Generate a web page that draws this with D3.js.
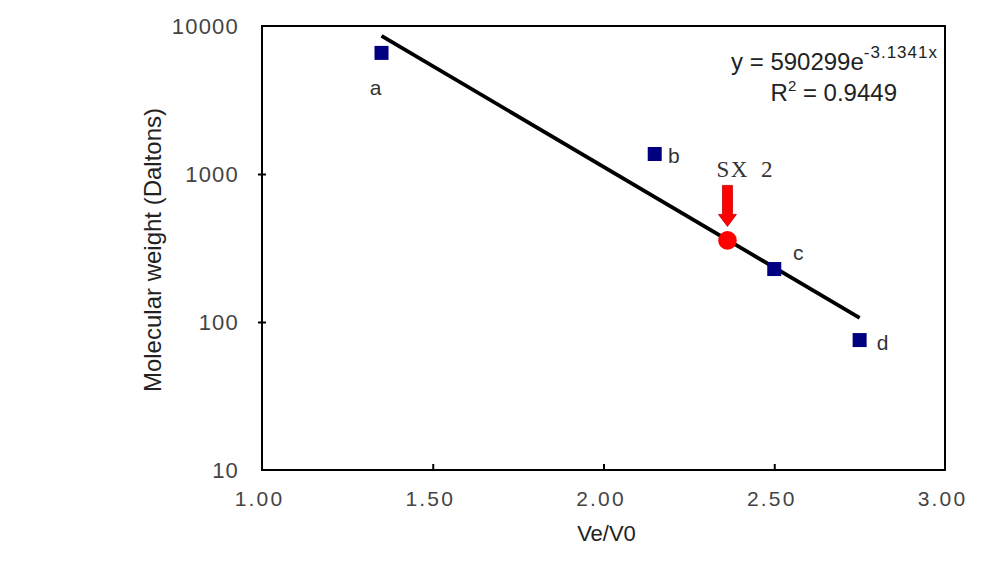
<!DOCTYPE html>
<html>
<head>
<meta charset="utf-8">
<script src="https://cdnjs.cloudflare.com/ajax/libs/d3/7.8.5/d3.min.js"></script>
<style>
  body { margin: 0; background: #fff; }
  text { font-family: "Liberation Sans", Arial, sans-serif; }
</style>
</head>
<body>
<div id="chart"></div>
<script>
// standards
var labels = ["a", "b", "c", "d"]
var veV0 = [1.35, 2.15, 2.50, 2.75]
var mw = [6580, 1365, 228, 75.5]

// sample
var sampleName = "SX 2"
var sampleX = 2.363
var sampleY = 356

// exponential trend line as printed on the chart
var trendA = 590299
var trendB = -3.1341
var trendR2 = 0.9449

var xTicks = [1.0, 1.5, 2.0, 2.5, 3.0]
var yTicks = [10, 100, 1000, 10000]

var margin = {top: 26, right: 51, bottom: 92, left: 262},
  width = 996 - margin.left - margin.right,
  height = 562 - margin.top - margin.bottom

var svg = d3.select("#chart").append("svg")
    .attr("width", 996)
    .attr("height", 562)
  .append("g")
    .attr("transform", "translate(" + margin.left + "," + margin.top + ")")

var x = d3.scaleLinear().domain([1, 3]).range([0, width])
var y = d3.scaleLog().domain([10, 10000]).range([height, 0])

// frame
svg.append("rect")
  .attr("width", width)
  .attr("height", height)
  .attr("fill", "none")
  .attr("stroke", "#000")
  .attr("stroke-width", 2)

// x axis: small inner ticks
var xAxis = svg.append("g")
  .attr("transform", "translate(0," + height + ")")
  .call(d3.axisBottom(x).tickValues(xTicks).tickSize(-6).tickPadding(21).tickFormat(d3.format(".2f")))
xAxis.select(".domain").remove()
xAxis.selectAll("line").attr("stroke-width", 2).filter(function(d) { return d == 1 || d == 3 }).remove()
xAxis.selectAll("text")
  .attr("fill", "#444")
  .attr("dx", -3)
  .style("font-size", "21px")
  .style("letter-spacing", "2.2px")

// y axis: short crossing ticks
var yAxis = svg.append("g")
  .call(d3.axisLeft(y).tickValues(yTicks).tickSize(4).tickPadding(19).tickFormat(d3.format("d")))
yAxis.select(".domain").remove()
yAxis.selectAll("line").attr("x2", 4).attr("x1", -4).attr("stroke-width", 2)
  .filter(function(d) { return d == 10 || d == 10000 }).remove()
yAxis.selectAll("text")
  .attr("fill", "#444")
  .style("font-size", "22px")
  .style("letter-spacing", "1.2px")

// axis titles
svg.append("text")
  .attr("x", width / 2 + 3)
  .attr("y", height + 71)
  .attr("text-anchor", "middle")
  .attr("fill", "#222")
  .style("font-size", "22px")
  .text("Ve/V0")

svg.append("text")
  .attr("transform", "translate(-101," + (height / 2 + 2) + ") rotate(-90)")
  .attr("text-anchor", "middle")
  .attr("fill", "#222")
  .style("font-size", "24px")
  .text("Molecular weight (Daltons)")

// trend line between the first and last standard
var xs = d3.extent(veV0)
var trend = xs.map(function(v) { return [v, trendA * Math.exp(trendB * v)] })
svg.append("path")
  .attr("d", d3.line().x(function(d) { return x(d[0]) }).y(function(d) { return y(d[1]) })(trend))
  .attr("stroke", "#000")
  .attr("stroke-width", 3.8)
  .attr("fill", "none")

// standards
var sq = 14
svg.selectAll(".std")
  .data(veV0)
  .enter().append("rect")
    .attr("class", "std")
    .attr("x", function(d) { return x(d) - sq / 2 })
    .attr("y", function(d, i) { return y(mw[i]) - sq / 2 })
    .attr("width", sq)
    .attr("height", sq)
    .attr("fill", "#000080")

var labelOffset = [[-6, 42], [19, 9], [24, -9], [23, 10]]
svg.selectAll(".stdLabel")
  .data(labels)
  .enter().append("text")
    .attr("class", "stdLabel")
    .attr("x", function(d, i) { return x(veV0[i]) + labelOffset[i][0] })
    .attr("y", function(d, i) { return y(mw[i]) + labelOffset[i][1] })
    .attr("text-anchor", "middle")
    .attr("fill", "#333")
    .style("font-size", "21px")
    .text(function(d) { return d })

// sample point with arrow
var sx = x(sampleX), sy = y(sampleY)
svg.append("path")
  .attr("d", "M" + (sx - 5) + "," + (sy - 55) + "V" + (sy - 26) + "H" + (sx - 9) +
    "L" + sx + "," + (sy - 14) + "L" + (sx + 9) + "," + (sy - 26) + "H" + (sx + 5) + "V" + (sy - 55) + "Z")
  .attr("fill", "#ff0000")
  .attr("stroke", "#c00000")
  .attr("stroke-width", 0.8)

svg.append("circle")
  .attr("cx", sx)
  .attr("cy", sy)
  .attr("r", 9.3)
  .attr("fill", "#ff0000")

svg.append("text")
  .attr("x", sx - 11)
  .attr("y", sy - 63)
  .attr("fill", "#333")
  .style("font-family", "'Liberation Serif', 'DejaVu Serif', serif")
  .style("font-size", "23px")
  .style("letter-spacing", "1.5px")
  .style("word-spacing", "5px")
  .text(sampleName)

// equation
var eq = svg.append("text")
  .attr("x", width - 7)
  .attr("y", 44)
  .attr("text-anchor", "end")
  .attr("fill", "#222")
  .style("font-size", "24px")
eq.append("tspan").text("y = " + trendA + "e")
eq.append("tspan").attr("dy", -12).style("font-size", "17px").style("letter-spacing", "1px").text(trendB + "x")

var r2 = svg.append("text")
  .attr("x", width - 48)
  .attr("y", 75)
  .attr("text-anchor", "end")
  .attr("fill", "#222")
  .style("font-size", "24px")
r2.append("tspan").text("R")
r2.append("tspan").attr("dy", -10).style("font-size", "15px").text("2")
r2.append("tspan").attr("dy", 10).text(" = " + trendR2)
</script>
</body>
</html>
